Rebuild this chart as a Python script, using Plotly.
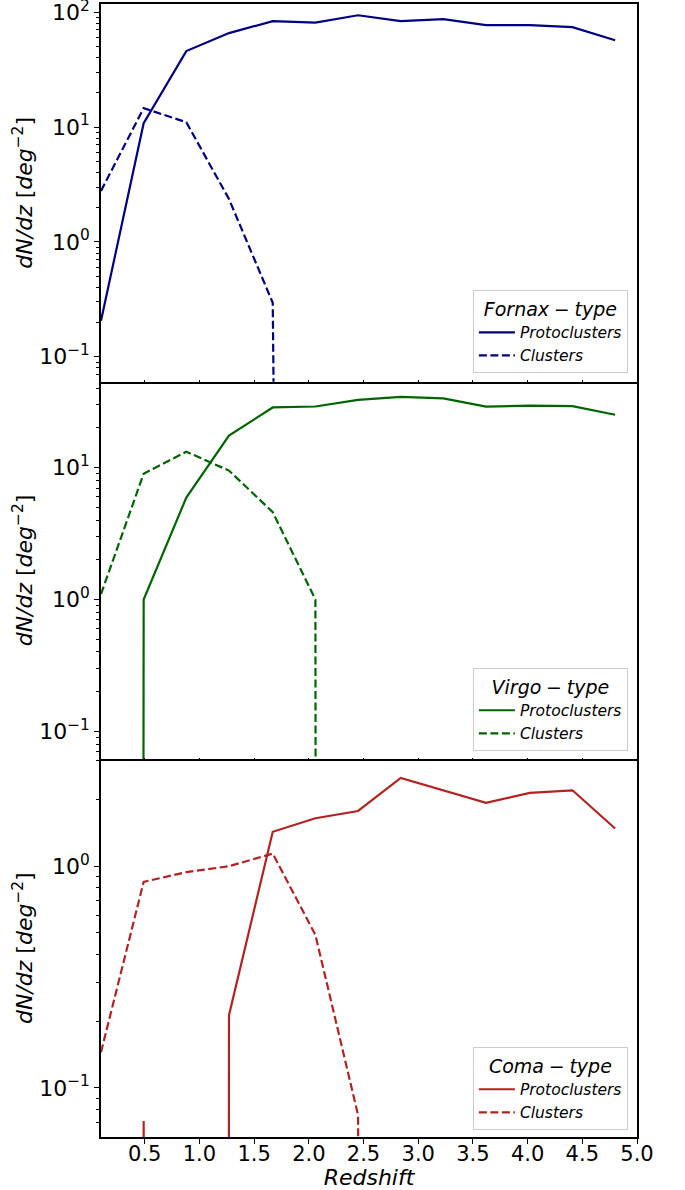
import numpy as np
import plotly.graph_objects as go
from plotly.subplots import make_subplots

# ---- data ----
redshift = [0.10, 0.49, 0.88, 1.27, 1.67, 2.06, 2.45, 2.84, 3.23, 3.62, 4.02, 4.41, 4.80]

fornax_proto = [0.206, 10.8, 45.8, 65.7, 83.5, 81.0, 94.0, 83.5, 87.0, 77.0, 77.0, 74.0, 57.0]
fornax_clusters = [2.78, 14.6, 11.0, 2.36, 0.295, 0, 0, 0, 0, 0, 0, 0, 0]

virgo_proto = [0, 1.0, 5.93, 17.5, 28.6, 29.1, 32.7, 34.4, 33.5, 29.0, 29.5, 29.3, 25.2]
virgo_clusters = [1.1, 9.0, 13.2, 9.5, 4.6, 1.0, 0, 0, 0, 0, 0, 0, 0]

coma_proto = [0, 0.071, 0, 0.213, 1.43, 1.645, 1.775, 2.50, 2.20, 1.93, 2.14, 2.20, 1.48]
coma_clusters = [0.145, 0.85, 0.94, 1.0, 1.14, 0.49, 0.0755, 0, 0, 0, 0, 0, 0]

panel_names = ["Fornax", "Virgo", "Coma"]
x_ticks = [0.5, 1.0, 1.5, 2.0, 2.5, 3.0, 3.5, 4.0, 4.5, 5.0]

# zeros -> practically -inf on the log axis (as matplotlib draws them)
FLOOR = 1e-300
def floor0(vals):
    return [v if v > 0 else FLOOR for v in vals]

colors = ["#000080", "#006400", "#b22222"]
series = [(fornax_proto, fornax_clusters), (virgo_proto, virgo_clusters), (coma_proto, coma_clusters)]
y_ranges = [[-1.217, 2.071], [-1.212, 1.652], [-1.221, 0.482]]
legend_y = [0.6743, 0.3407, 0.0062]

FONT = "DejaVu Sans"

fig = make_subplots(rows=3, cols=1, shared_xaxes=True, vertical_spacing=0)

for i, (name, (proto, clus), col) in enumerate(zip(panel_names, series, colors)):
    leg = "legend" if i == 0 else f"legend{i+1}"
    fig.add_trace(go.Scatter(x=redshift, y=floor0(proto), mode="lines",
                             line=dict(color=col, width=2.2),
                             name="<i>Protoclusters</i>", legend=leg, cliponaxis=True),
                  row=i + 1, col=1)
    fig.add_trace(go.Scatter(x=redshift, y=floor0(clus), mode="lines",
                             line=dict(color=col, width=2.2, dash="8px,3.5px"),
                             name="<i>Clusters</i>", legend=leg, cliponaxis=True),
                  row=i + 1, col=1)

minor_vals = [m * 10.0 ** k for k in range(-2, 3) for m in range(2, 10)]

for i in range(3):
    lo, hi = y_ranges[i]
    tv = [10.0 ** k for k in range(-1, 3) if lo <= k <= hi]
    tt = []
    for k in range(-1, 3):
        if lo <= k <= hi:
            tt.append("10<sup>" + str(k).replace("-", "\u2212") + "</sup>")
    fig.update_yaxes(type="log", range=[lo, hi], tickvals=tv, ticktext=tt,
                     ticks="outside", ticklen=5, tickwidth=1.2, tickcolor="black",
                     ticklabeloverflow="allow",
                     minor=dict(tickvals=minor_vals, ticks="outside", ticklen=3,
                                tickwidth=1, tickcolor="black", showgrid=False),
                     showgrid=False, zeroline=False, showline=True, mirror=True,
                     linecolor="black", linewidth=1.5,
                     tickfont=dict(family=FONT, size=22, color="black"),
                     title=dict(text="<i>dN/dz</i> [<i>deg</i><sup>\u22122</sup>]",
                                font=dict(family=FONT, size=22, color="black"),
                                standoff=0),
                     row=i + 1, col=1)
    is_bottom = (i == 2)
    fig.update_xaxes(range=[0.1, 5.0], tickvals=x_ticks,
                     ticktext=[f"{v:.1f}" for v in x_ticks],
                     showticklabels=is_bottom,
                     ticks="outside" if is_bottom else "inside",
                     ticklen=5 if is_bottom else 2, tickwidth=1.2, tickcolor="black",
                     ticklabeloverflow="allow",
                     showgrid=False, zeroline=False, showline=True,
                     mirror=(i == 0),
                     linecolor="black", linewidth=1.5,
                     tickfont=dict(family=FONT, size=21, color="black"),
                     row=i + 1, col=1)

fig.update_xaxes(title=dict(text="<i>Redshift</i>", font=dict(family=FONT, size=22, color="black"),
                            standoff=0), ticklabelstandoff=-8, row=3, col=1)

legend_common = dict(
    xanchor="right", yanchor="bottom", x=0.983,
    bgcolor="rgba(255,255,255,0.8)", bordercolor="#cccccc", borderwidth=1,
    font=dict(family=FONT, size=15.5, color="black"),
    itemwidth=36, tracegroupgap=0,
)
layout_legends = {}
for i, name in enumerate(panel_names):
    key = "legend" if i == 0 else f"legend{i+1}"
    layout_legends[key] = dict(
        legend_common, y=legend_y[i],
        title=dict(text=f"<i>{name}\u2005\u2212\u2005type</i>", side="top center",
                   font=dict(family=FONT, size=19, color="black")),
    )

fig.update_layout(
    width=685, height=1190,
    margin=dict(l=101, r=48, t=4, b=53, autoexpand=False),
    plot_bgcolor="white", paper_bgcolor="white",
    font=dict(family=FONT, color="black"),
    showlegend=True,
    **layout_legends,
)

fig.write_html("out.html", config={"displayModeBar": False},
               post_script="document.body.style.margin='0px';")
